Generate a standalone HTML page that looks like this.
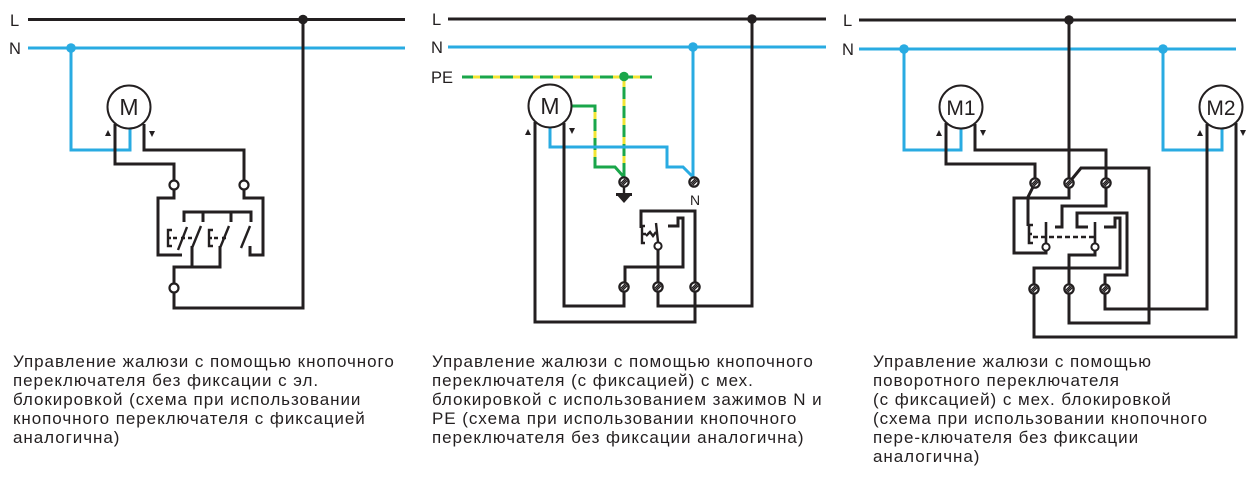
<!DOCTYPE html>
<html><head><meta charset="utf-8">
<style>
html,body{margin:0;padding:0;background:#fff;}
body{width:1260px;height:477px;position:relative;overflow:hidden;}
svg{position:absolute;left:0;top:0;}
.cap{position:absolute;top:352px;font-family:"Liberation Sans","Noto Sans CJK SC",sans-serif;font-size:17px;line-height:19px;color:#231f20;letter-spacing:0.95px;white-space:nowrap;}
</style></head>
<body>
<svg width="1260" height="477" viewBox="0 0 1260 477" xmlns="http://www.w3.org/2000/svg">
<defs>
<g id="ht">
<circle r="4.6" fill="#fff" stroke="#231f20" stroke-width="2.3"/>
<line x1="-3.2" y1="1.2" x2="1.2" y2="-3.2" stroke="#231f20" stroke-width="1.3"/>
<line x1="-1.2" y1="3.2" x2="3.2" y2="-1.2" stroke="#231f20" stroke-width="1.3"/>
<line x1="-2.4" y1="2.4" x2="2.4" y2="-2.4" stroke="#231f20" stroke-width="1.3"/>
</g>
</defs>
<g font-family="Liberation Sans, sans-serif" fill="#231f20" font-size="16.5">
<text x="10" y="26">L</text>
<text x="9" y="54">N</text>
<text x="432" y="25">L</text>
<text x="431" y="53">N</text>
<text x="431" y="83">PE</text>
<text x="843" y="26">L</text>
<text x="842" y="55">N</text>
</g>

<!-- ============ Diagram 1 ============ -->
<g fill="none" stroke-linejoin="miter" stroke-linecap="butt">
<path d="M28,19.5 H405" stroke="#231f20" stroke-width="3"/>
<path d="M28,48 H405" stroke="#29abe2" stroke-width="3"/>
<path d="M71,48 V150 H130 V128" stroke="#29abe2" stroke-width="3"/>
<g stroke="#231f20" stroke-width="3">
<path d="M303,19.5 V308 H174 V292.5"/>
<path d="M115,124 V164 H174 V180.5"/>
<path d="M144,124 V150 H244 V180.5"/>
<path d="M174,189.5 V198 H158 V255 H182"/>
<path d="M244,189.5 V198 H263 V255 H250 V246"/>
<path d="M184,222 V212 H251 V222 M203,212 V222 M231,212 V222"/>
<path d="M174,283.5 V267 H220 V246 M192,267 V246"/>
</g>
<g stroke="#231f20" stroke-width="2.4">
<path d="M172,230 H168 V246 H172 M168,238 H171"/>
<path d="M178,250 L187,227"/>
<path d="M192,248 L201,226"/>
<path d="M173,238 H177 M181,238 H185 M188,238 H192"/>
<path d="M213,230 H209 V246 H213 M209,238 H212"/>
<path d="M214,238 H218 M222,238 H226"/>
<path d="M220,248 L229,226"/>
<path d="M241,248 L250,226"/>
</g>
</g>
<circle cx="303" cy="19.5" r="4.8" fill="#231f20"/>
<circle cx="71" cy="48" r="4.8" fill="#29abe2"/>
<g fill="#fff" stroke="#231f20" stroke-width="2.2">
<circle cx="174" cy="185" r="4.5"/>
<circle cx="244" cy="185" r="4.5"/>
<circle cx="174" cy="288" r="4.5"/>
</g>
<circle cx="129" cy="107" r="21.5" fill="#fff" stroke="#231f20" stroke-width="2"/>
<text x="129" y="115" font-family="Liberation Sans, sans-serif" font-size="23" text-anchor="middle" fill="#231f20">M</text>
<polygon points="105,136 111,136 108,130" fill="#231f20"/>
<polygon points="149,131 155,131 152,137" fill="#231f20"/>

<!-- ============ Diagram 2 ============ -->
<g fill="none">
<path d="M448,19 H826" stroke="#231f20" stroke-width="3"/>
<path d="M448,47 H826" stroke="#29abe2" stroke-width="3"/>
<path d="M462,77 H652" stroke="#1aa64a" stroke-width="3"/>
<path d="M462,77 H652" stroke="#f2e534" stroke-width="3" stroke-dasharray="0 11 7 2"/>
<path d="M624,76 V177" stroke="#1aa64a" stroke-width="3"/>
<path d="M624,80 V172" stroke="#f2e534" stroke-width="3" stroke-dasharray="7 12"/>
<path d="M572,106 H595 V167 H615 L623,176" stroke="#1aa64a" stroke-width="3"/>
<path d="M595,112 V165" stroke="#f2e534" stroke-width="3" stroke-dasharray="7 12"/>
<path d="M550,128 V147 H667 V167 H683 L692,176 M693,47 V178" stroke="#29abe2" stroke-width="3"/>
<g stroke="#231f20" stroke-width="3">
<path d="M752,19 V306 H658 V291.5"/>
<path d="M535,122 V322 H695 V291.5"/>
<path d="M564,123 V306 H624 V291.5"/>
<path d="M641,228 V211 H695 V282.5"/>
<path d="M668,226 H678 V218 H683 V267 H625 V282.5"/>
<path d="M658,250 V282.5"/>
</g>
<g stroke="#231f20" stroke-width="2.4">
<path d="M645,226 H642 V243 H645 M642,234 H646"/>
<path d="M646,236 L650,232 L653,236 L656,232"/>
<path d="M658,242 L656,223"/>
<path d="M624,187 V194"/>
</g>
</g>
<circle cx="752" cy="19" r="4.8" fill="#231f20"/>
<circle cx="693" cy="47" r="4.8" fill="#29abe2"/>
<circle cx="624" cy="76.5" r="4.8" fill="#1aa64a"/>
<polygon points="616,194 632,194 624,203" fill="#231f20"/>
<rect x="616" y="193" width="16" height="3" fill="#231f20"/>
<use href="#ht" x="624" y="182"/>
<use href="#ht" x="694" y="182"/>
<use href="#ht" x="624" y="287"/>
<use href="#ht" x="658" y="287"/>
<use href="#ht" x="695" y="287"/>
<circle cx="658" cy="246" r="3.6" fill="#fff" stroke="#231f20" stroke-width="2"/>
<text x="695" y="205" font-family="Liberation Sans, sans-serif" font-size="14" text-anchor="middle" fill="#231f20">N</text>
<circle cx="550" cy="106" r="21.5" fill="#fff" stroke="#231f20" stroke-width="2"/>
<text x="550" y="114" font-family="Liberation Sans, sans-serif" font-size="23" text-anchor="middle" fill="#231f20">M</text>
<polygon points="525,135 531,135 528,129" fill="#231f20"/>
<polygon points="569,128 575,128 572,134" fill="#231f20"/>

<!-- ============ Diagram 3 ============ -->
<g fill="none">
<path d="M859,20 H1236" stroke="#231f20" stroke-width="3"/>
<path d="M859,49 H1236" stroke="#29abe2" stroke-width="3"/>
<path d="M904,49 V150 H961 V129 M1163,49 V150 H1222 V129" stroke="#29abe2" stroke-width="3"/>
<g stroke="#231f20" stroke-width="3">
<path d="M1069,20 V178.5"/>
<path d="M946,123 V164 H1035 V178.5"/>
<path d="M975,124 V150 H1106 V178.5"/>
<path d="M1072,179 L1081,168 H1149 V323 H1069 V293.5"/>
<path d="M1207,124 V309 H1105 V293.5"/>
<path d="M1236,123 V337 H1034 V293.5"/>
<path d="M1069,187.5 V198 H1014 V253 H1046 V250.5"/>
<path d="M1033,187 L1028,197 V226"/>
<path d="M1106,187.5 V206 H1062 V227 H1055"/>
<path d="M1088,227 H1077 V213 H1127 V275 H1105 V284.5"/>
<path d="M1104,227 H1115 V218 H1120 V268 H1034 V284.5"/>
<path d="M1095,250.5 V255 H1069 V284.5"/>
</g>
<g stroke="#231f20" stroke-width="2.6">
<path d="M1033,225 H1029 V243 H1033 M1029,234 H1032"/>
<path d="M1046,222 V243"/>
<path d="M1095,222 V243"/>
<path d="M1033,237 H1095" stroke-dasharray="5 3"/>
</g>
</g>
<circle cx="1069" cy="20" r="4.8" fill="#231f20"/>
<circle cx="904" cy="49" r="4.8" fill="#29abe2"/>
<circle cx="1163" cy="49" r="4.8" fill="#29abe2"/>
<use href="#ht" x="1035" y="183"/>
<use href="#ht" x="1069" y="183"/>
<use href="#ht" x="1106" y="183"/>
<use href="#ht" x="1034" y="289"/>
<use href="#ht" x="1069" y="289"/>
<use href="#ht" x="1105" y="289"/>
<circle cx="1046" cy="247" r="3.6" fill="#fff" stroke="#231f20" stroke-width="2"/>
<circle cx="1095" cy="247" r="3.6" fill="#fff" stroke="#231f20" stroke-width="2"/>
<circle cx="961" cy="107" r="21.5" fill="#fff" stroke="#231f20" stroke-width="2"/>
<text x="961" y="115" font-family="Liberation Sans, sans-serif" font-size="21" text-anchor="middle" fill="#231f20">M1</text>
<circle cx="1221" cy="107" r="21.5" fill="#fff" stroke="#231f20" stroke-width="2"/>
<text x="1221" y="115" font-family="Liberation Sans, sans-serif" font-size="21" text-anchor="middle" fill="#231f20">M2</text>
<polygon points="936,136 942,136 939,130" fill="#231f20"/>
<polygon points="980,130 986,130 983,136" fill="#231f20"/>
<polygon points="1197,136 1203,136 1200,130" fill="#231f20"/>
<polygon points="1240,130 1246,130 1243,136" fill="#231f20"/>
</svg>

<div class="cap" style="left:13px;">Управление жалюзи с помощью кнопочного<br>переключателя без фиксации с эл.<br>блокировкой (схема при использовании<br>кнопочного переключателя с фиксацией<br>аналогична)</div>
<div class="cap" style="left:432px;">Управление жалюзи с помощью кнопочного<br>переключателя (с фиксацией) с мех.<br>блокировкой с использованием зажимов N и<br>PE (схема при использовании кнопочного<br>переключателя без фиксации аналогична)</div>
<div class="cap" style="left:873px;">Управление жалюзи с помощью<br>поворотного переключателя<br>(с фиксацией) с мех. блокировкой<br>(схема при использовании кнопочного<br>пере-ключателя без фиксации<br>аналогична)</div>
</body></html>
